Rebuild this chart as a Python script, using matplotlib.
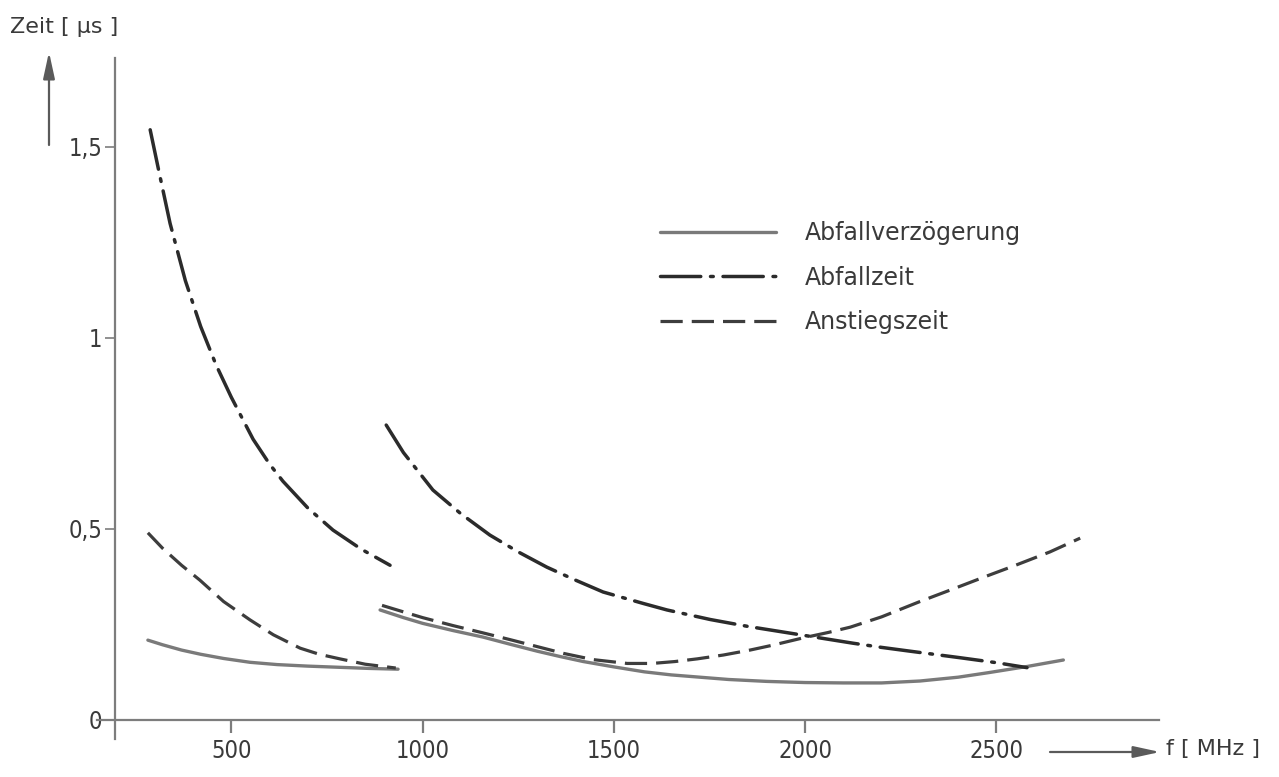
import matplotlib
matplotlib.use("Agg")
import matplotlib.pyplot as plt
from matplotlib.lines import Line2D

plt.rcParams["lines.scale_dashes"] = False

# Abfallverzögerung (solid), two frequency bands
verz_f1 = [282, 320, 370, 420, 480, 549, 620, 700, 780, 860, 936]
verz_t1 = [0.209, 0.197, 0.183, 0.172, 0.161, 0.151, 0.145, 0.141, 0.138, 0.135, 0.133]
verz_f2 = [889, 950, 1000, 1080, 1158, 1230, 1300, 1360, 1420, 1500, 1580, 1650,
           1725, 1800, 1900, 2000, 2100, 2200, 2300, 2400, 2480, 2580, 2675]
verz_t2 = [0.288, 0.268, 0.253, 0.234, 0.217, 0.198, 0.180, 0.166, 0.153, 0.139, 0.126, 0.118,
           0.112, 0.106, 0.101, 0.098, 0.097, 0.097, 0.102, 0.112, 0.124, 0.140, 0.157]

# Abfallzeit (dash-dot)
fall_f1 = [288, 310, 340, 380, 420, 460, 500, 557, 600, 635, 700, 766, 840, 915]
fall_t1 = [1.545, 1.44, 1.30, 1.15, 1.03, 0.93, 0.845, 0.735, 0.67, 0.625, 0.555, 0.497, 0.447, 0.405]
fall_f2 = [905, 950, 1027, 1100, 1176, 1250, 1325, 1400, 1472, 1577, 1639, 1752, 1850,
           1969, 2050, 2125, 2200, 2275, 2405, 2500, 2580]
fall_t2 = [0.772, 0.70, 0.602, 0.54, 0.484, 0.44, 0.40, 0.366, 0.335, 0.305, 0.288, 0.263, 0.245,
           0.226, 0.213, 0.201, 0.19, 0.18, 0.163, 0.15, 0.137]

# Anstiegszeit (dashed)
rise_f1 = [282, 320, 370, 418, 480, 549, 610, 680, 730, 784, 850, 930]
rise_t1 = [0.49, 0.45, 0.405, 0.366, 0.31, 0.262, 0.223, 0.188, 0.172, 0.16, 0.146, 0.136]
rise_f2 = [894, 950, 1000, 1080, 1158, 1230, 1300, 1370, 1446, 1535, 1600, 1660, 1718, 1786,
           1856, 1916, 1995, 2060, 2118, 2200, 2300, 2379, 2470, 2550, 2640, 2719]
rise_t2 = [0.30, 0.283, 0.268, 0.247, 0.228, 0.21, 0.192, 0.174, 0.158, 0.148, 0.148, 0.153, 0.16, 0.17,
           0.183, 0.196, 0.215, 0.229, 0.243, 0.27, 0.31, 0.34, 0.375, 0.405, 0.44, 0.476]

x_ticks = [500, 1000, 1500, 2000, 2500]
x_labels = ["500", "1000", "1500", "2000", "2500"]
y_ticks = [0, 0.5, 1, 1.5]
y_labels = ["0", "0,5", "1", "1,5"]
legend_labels = ["Abfallverzögerung", "Abfallzeit", "Anstiegszeit"]

W, H = 1279, 777
fig = plt.figure(figsize=(W / 100, H / 100), dpi=100)
ax = fig.add_axes([97 / W, 0.0488, (1159 - 97) / W, 0.8766])
ax.set_xlim(149, 2925)
ax.set_ylim(-0.05, 1.733)

axis_col = "#7d7d7d"
for side in ("top", "right"):
    ax.spines[side].set_visible(False)
ax.spines["left"].set_position(("data", 196))
ax.spines["bottom"].set_position(("data", 0))
for side in ("left", "bottom"):
    ax.spines[side].set_color(axis_col)
    ax.spines[side].set_linewidth(1.6)

tick_font = dict(family="DejaVu Sans", stretch="condensed", size=17, color="#3a3a3a")
ax.set_xticks(x_ticks, x_labels, fontdict=tick_font)
ax.set_yticks(y_ticks, y_labels, fontdict=tick_font)
ax.tick_params(axis="x", direction="out", length=9, width=1.6, color=axis_col, pad=5)
ax.tick_params(axis="y", direction="out", length=7, width=1.2, color=axis_col, pad=2)

solid_kw = dict(color="#7a7a7a", lw=2.4, solid_capstyle="round")
dashdot_kw = dict(color="#2b2b2b", lw=2.5, dashes=(29, 7, 2, 7), dash_capstyle="round")
dashed_kw = dict(color="#3d3d3d", lw=2.3, dashes=(16, 6.5))

ax.plot(verz_f1, verz_t1, **solid_kw)
ax.plot(verz_f2, verz_t2, **solid_kw)
ax.plot(fall_f1, fall_t1, **dashdot_kw)
ax.plot(fall_f2, fall_t2, **dashdot_kw)
ax.plot(rise_f1, rise_t1, **dashed_kw)
ax.plot(rise_f2, rise_t2, **dashed_kw)

handles = [Line2D([], [], **solid_kw), Line2D([], [], **dashdot_kw), Line2D([], [], **dashed_kw)]
leg = fig.legend(handles, legend_labels, loc="upper left",
                 bbox_to_anchor=(660 / W, 1 - 221 / H), frameon=False,
                 borderpad=0, borderaxespad=0, handlelength=4.9, handletextpad=1.25,
                 labelspacing=0.87, prop=dict(family="DejaVu Sans", size=17))
for t in leg.get_texts():
    t.set_color("#3a3a3a")

label_font = dict(family="DejaVu Sans", size=16, color="#3a3a3a")
fig.text(10 / W, 1 - 27 / H, "Zeit [ µs ]", ha="left", va="center", **label_font)
fig.text(1166 / W, 1 - 749 / H, "f [ MHz ]", ha="left", va="center", **label_font)

arrow_kw = dict(arrowstyle="-|>,head_length=1.6,head_width=0.35", color="#5a5a5a", lw=1.6,
                shrinkA=0, shrinkB=0)
ax.annotate("", xy=(49, H - 52), xytext=(49, H - 145), xycoords="figure pixels",
            textcoords="figure pixels", arrowprops=arrow_kw)
ax.annotate("", xy=(1160, H - 752), xytext=(1050, H - 752), xycoords="figure pixels",
            textcoords="figure pixels", arrowprops=arrow_kw)

fig.savefig("out.png", dpi=100)
